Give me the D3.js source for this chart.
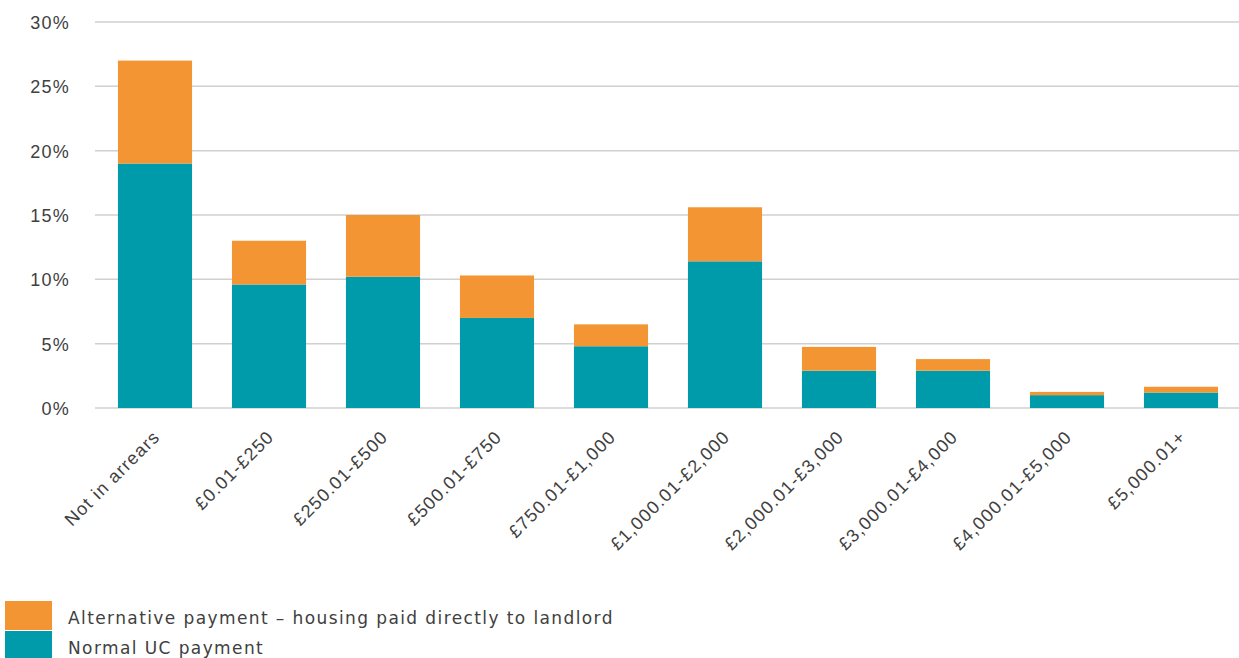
<!DOCTYPE html>
<html>
<head>
<meta charset="utf-8">
<script src="https://cdn.jsdelivr.net/npm/d3@7"></script>
<style>
  body { margin: 0; background: #fff; }
  svg { font-family: "DejaVu Sans", sans-serif; }
  .grid line { stroke: #d0d0d0; stroke-width: 1.5; }
  .tick text { fill: #404040; }
</style>
</head>
<body>
<div id="chart"></div>
<script>
// Arrears bands
var categories = ["Not in arrears", "£0.01-£250", "£250.01-£500", "£500.01-£750", "£750.01-£1,000",
    "£1,000.01-£2,000", "£2,000.01-£3,000", "£3,000.01-£4,000", "£4,000.01-£5,000", "£5,000.01+"];

// Share of claimants (%)
var normalUC = [19.0, 9.6, 10.2, 7.0, 4.8, 11.4, 2.9, 2.9, 1.0, 1.2];
var alternative = [8.0, 3.4, 4.8, 3.3, 1.7, 4.2, 1.85, 0.9, 0.25, 0.45];

var yTicks = [0, 5, 10, 15, 20, 25, 30];

var seriesNames = ["Alternative payment – housing paid directly to landlord", "Normal UC payment"];

function init() {
    var width = 1239;
    var height = 658;

    var color = { normal: "#009baa", alt: "#f39533" };

    var svg = d3.select("#chart")
        .append("svg")
        .attr("width", width)
        .attr("height", height);

    var x = d3.scaleBand()
        .domain(categories)
        .range([98, 1238])
        .paddingInner(0.35)
        .paddingOuter(0.175);

    var y = d3.scaleLinear()
        .domain([0, 30])
        .range([408, 22]);

    // Grid lines
    svg.append("g")
        .attr("class", "grid")
        .selectAll("line")
        .data(yTicks)
        .enter()
        .append("line")
        .attr("x1", 95)
        .attr("x2", 1239)
        .attr("y1", function (d) { return y(d); })
        .attr("y2", function (d) { return y(d); });

    // Y axis labels
    var yAxis = d3.axisLeft(y)
        .tickValues(yTicks)
        .tickSize(0)
        .tickPadding(0)
        .tickFormat(function (d) { return d + "%"; });

    svg.append("g")
        .attr("transform", "translate(70,0)")
        .call(yAxis)
        .call(function (g) { g.select(".domain").remove(); })
        .selectAll("text")
        .attr("font-size", "18px")
        .attr("letter-spacing", "1.2px")
        .attr("dy", "0.36em");

    // Stacked data
    var rows = categories.map(function (c, i) {
        return { cat: c, normal: normalUC[i], alt: alternative[i] };
    });
    var stack = d3.stack().keys(["normal", "alt"]);
    var layers = stack(rows);

    svg.selectAll(".layer")
        .data(layers)
        .enter()
        .append("g")
        .attr("class", "layer")
        .attr("fill", function (d) { return color[d.key]; })
        .selectAll("rect")
        .data(function (d) { return d; })
        .enter()
        .append("rect")
        .attr("x", function (d) { return x(d.data.cat); })
        .attr("width", x.bandwidth())
        .attr("y", function (d) { return y(d[1]); })
        .attr("height", function (d) { return y(d[0]) - y(d[1]); });

    // X axis labels, rotated
    var xAxis = d3.axisBottom(x).tickSize(0).tickPadding(0);
    svg.append("g")
        .attr("transform", "translate(0,408)")
        .call(xAxis)
        .call(function (g) { g.select(".domain").remove(); })
        .selectAll("text")
        .attr("font-size", "18px")
        .attr("letter-spacing", "1.2px")
        .attr("text-anchor", "end")
        .attr("dy", 0)
        .attr("transform", "translate(6,30) rotate(-45)");

    // Legend
    var legend = svg.append("g").attr("class", "legend");
    var legendItems = [
        { name: seriesNames[0], key: "alt", top: 601 },
        { name: seriesNames[1], key: "normal", top: 631 }
    ];
    legendItems.forEach(function (d) {
        legend.append("rect")
            .attr("x", 5)
            .attr("y", d.top)
            .attr("width", 47)
            .attr("height", 29)
            .attr("fill", color[d.key]);
        legend.append("text")
            .attr("x", 68)
            .attr("y", d.top + 23)
            .attr("font-size", "17px")
            .attr("letter-spacing", "1.4px")
            .attr("fill", "#404040")
            .text(d.name);
    });
}

window.onload = init;
</script>
</body>
</html>
